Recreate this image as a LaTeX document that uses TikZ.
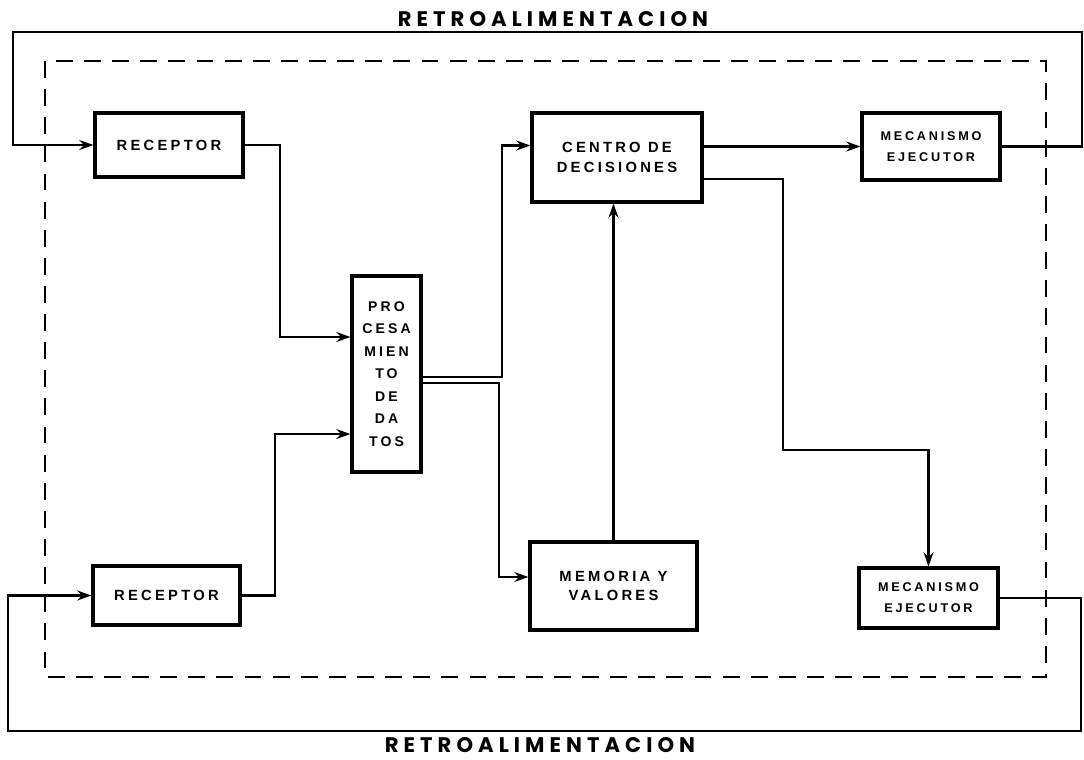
\documentclass[tikz,border=0pt]{standalone}
\usepackage{fontspec}
\setmainfont{Liberation Sans}
\newfontfamily\titlefont[LetterSpace=24]{Poppins}
\newfontfamily\boxfont[LetterSpace=22]{Liberation Sans}
\usepackage{tikz}
\usetikzlibrary{arrows.meta}
\tikzstyle{arrow} = [line width=1.5pt,->,>={Stealth[length=10pt,width=7pt]}]
\tikzstyle{border} = [line width=1.8pt,dash pattern=on 12pt off 8pt]

\begin{document}
\begin{tikzpicture}[x=0.025cm, y=-0.025cm, every node/.style={rectangle, draw, line width=2.2pt, inner sep=0pt, align=center, font=\boxfont\bfseries\fontsize{10.5}{14}\selectfont}]
    \useasboundingbox (0,0) rectangle (1084,759);
    % Nodes
    \node[minimum width=3.7cm, minimum height=1.6cm] (rec1) at (169,145) {RECEPTOR};
    \node[minimum width=3.675cm, minimum height=1.475cm] (rec2) at (166.5,595.5) {RECEPTOR};
    \node[minimum width=1.725cm, minimum height=4.9cm, font=\boxfont\bfseries\fontsize{10}{16}\selectfont] (proc) at (386.5,374) {PRO\\CESA\\MIEN\\TO\\DE\\DA\\TOS};
    \node[minimum width=4.25cm, minimum height=2.225cm] (centro) at (617,157.5) {CENTRO DE\\DECISIONES};
    \node[minimum width=3.45cm, minimum height=1.675cm, font=\boxfont\bfseries\fontsize{9}{15}\selectfont] (mec1) at (931,146.5) {MECANISMO\\EJECUTOR};
    \node[minimum width=4.175cm, minimum height=2.2cm] (memoria) at (613.5,586) {MEMORIA Y\\VALORES};
    \node[minimum width=3.475cm, minimum height=1.5cm, font=\boxfont\bfseries\fontsize{9}{15}\selectfont] (mec2) at (928.5,598) {MECANISMO\\EJECUTOR};
    \node[draw=none, font=\titlefont\bfseries\fontsize{15}{16}\selectfont] (fbtop) at (553,19) {RETROALIMENTACION};
    \node[draw=none, font=\titlefont\bfseries\fontsize{15}{16}\selectfont] (fbbot) at (540,745) {RETROALIMENTACION};

    % Corners
    \coordinate (topR) at (1082,32);
    \coordinate (topL) at (13,32);
    \coordinate (botR) at (1081,731);
    \coordinate (botL) at (8,731);
    \coordinate (turn) at (783,450);

    % System border
    \draw[border] (45,61) rectangle (1046,677);

    % Edges
    \draw[arrow] (mec1.east) -| (topR) -- (topL) |- (rec1.west);
    \draw[arrow] (mec2.east) -| (botR) -- (botL) |- (rec2.west);
    \draw[arrow] (rec1.east) -- ++(35,0) |- ([yshift=0.925cm]proc.west);
    \draw[arrow] (rec2.east) -- ++(33,0) |- ([yshift=-1.5cm]proc.west);
    \draw[arrow] ([yshift=-0.075cm]proc.east) -- ++(79,0) |- ([yshift=0.3cm]centro.west);
    \draw[arrow] ([yshift=-0.225cm]proc.east) -- ++(76,0) |- ([yshift=0.225cm]memoria.west);
    \draw[arrow] (centro.east |- mec1.west) -- (mec1.west);
    \draw[arrow] ([yshift=-0.54cm]centro.east) -| (turn) -| (mec2.north);
    \draw[arrow] (memoria.north) -- (memoria.north |- centro.south);

  \end{tikzpicture}
\end{document}
